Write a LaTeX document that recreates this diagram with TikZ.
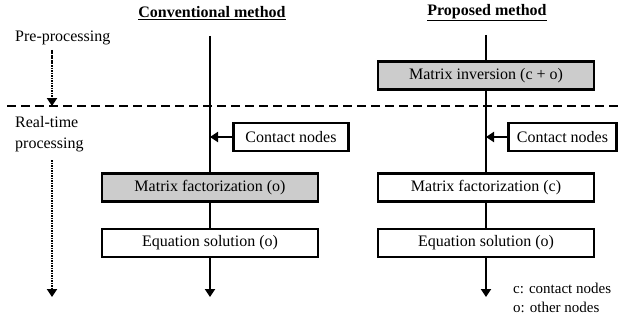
\documentclass[tikz,border=0pt]{standalone}
\usepackage{fontspec}
\setmainfont{Liberation Serif}
\usetikzlibrary{arrows.meta}
\begin{document}
\begin{tikzpicture}[x=1pt,y=-1pt,
  txt/.style={font=\fontsize{16}{21}\selectfont, inner sep=0pt},
  box/.style={draw, line width=2.8pt, minimum height=28pt, inner sep=0pt, font=\fontsize{16}{19}\selectfont},
  wide/.style={box, minimum width=216pt},
  shaded/.style={fill=gray!40},
  flow/.style={line width=2.8pt},
  tip/.style={-{Triangle[length=8pt,width=10pt]}},
  dots/.style={line width=2.8pt, dash pattern=on 1.6pt off 0.9pt},
  legend/.style={font=\fontsize{15}{19}\selectfont, inner sep=0pt, anchor=west}]
\useasboundingbox (0,0) rectangle (623,329);
% titles
\node[txt] (t1) at (212,13) {\underline{\textbf{Conventional method}}};
\node[txt] (t2) at (487,13) {\underline{\textbf{Proposed method}}};
% left labels
\node[txt, anchor=west] (pre) at (15,38) {Pre-processing};
\node[txt, anchor=north west, align=left] (rt) at (15,116) {Real-time\\processing};
% separator
\coordinate (sepL) at (7,106);
\coordinate (sepR) at (623,106);
\draw[line width=2.8pt, dash pattern=on 9pt off 5pt] (sepL) -- (sepR);
% dotted time arrows
\coordinate (d1a) at (52,50);
\coordinate (d1b) at (52,106);
\coordinate (d2a) at (52,160);
\coordinate (d2b) at (52,297);
\draw[dots, tip] (d1a) -- (d1b);
\draw[dots, tip] (d2a) -- (d2b);
% conventional method
\coordinate (ltop) at (210,36);
\coordinate (lend) at (210,297);
\node[wide, shaded] (lfac) at (210,187.5) {Matrix factorization (o)};
\node[wide] (leq) at (210,243) {Equation solution (o)};
\node[box, minimum width=115pt] (lcon) at (291,137) {Contact nodes};
\draw[flow] (ltop) -- (lfac.north);
\draw[flow] (lfac.south) -- (leq.north);
\draw[flow, tip] (leq.south) -- (lend);
\draw[flow, tip] (lcon.west) -- (lcon.west -| ltop);
% proposed method
\coordinate (rtop) at (486,35);
\coordinate (rend) at (486,297);
\node[wide, shaded] (rinv) at (486,75.5) {Matrix inversion (c + o)};
\node[wide] (rfac) at (486,187.5) {Matrix factorization (c)};
\node[wide] (req) at (486,243) {Equation solution (o)};
\node[box, minimum width=108pt] (rcon) at (562.5,137) {Contact nodes};
\draw[flow] (rtop) -- (rinv.north);
\draw[flow] (rinv.south) -- (rfac.north);
\draw[flow] (rfac.south) -- (req.north);
\draw[flow, tip] (req.south) -- (rend);
\draw[flow, tip] (rcon.west) -- (rcon.west -| rtop);
% legend
\node[legend] (lg1) at (513,288) {c: contact nodes};
\node[legend] (lg2) at (513,307) {o: other nodes};
\end{tikzpicture}
\end{document}
